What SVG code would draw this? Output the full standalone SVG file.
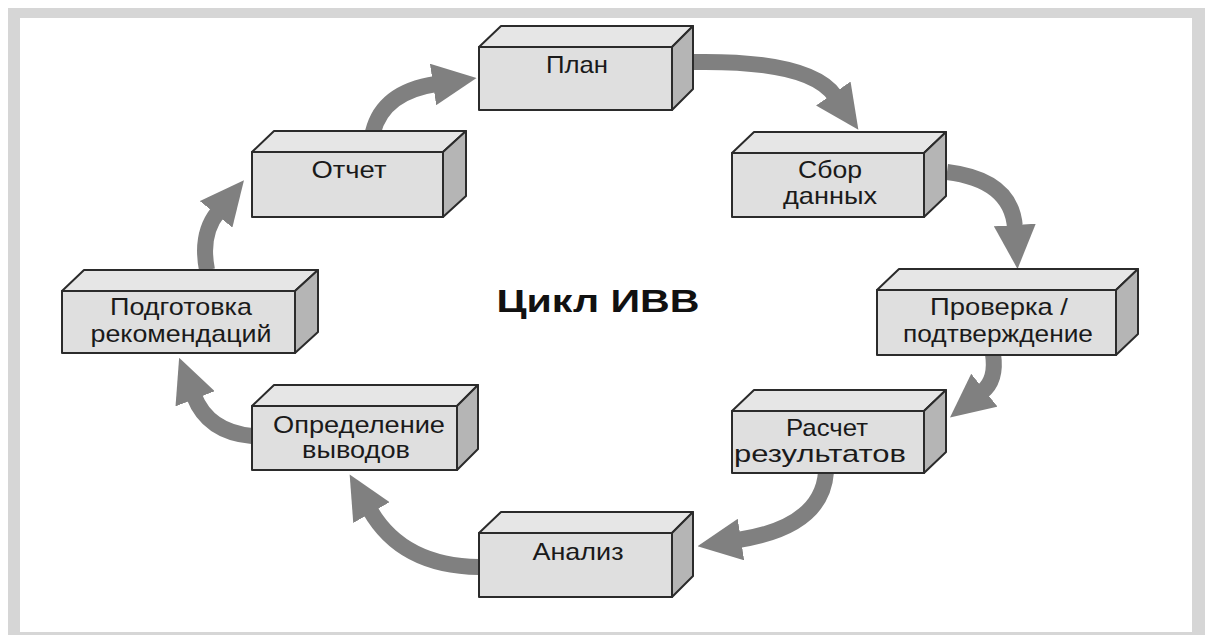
<svg xmlns="http://www.w3.org/2000/svg" width="1208" height="635" viewBox="0 0 1208 635">
<style>
.front{fill:#dfdfdf;stroke:#2b2b2b;stroke-width:2;stroke-linejoin:round}
.top{fill:#e6e6e6;stroke:#2b2b2b;stroke-width:2;stroke-linejoin:round}
.side{fill:#b5b5b5;stroke:#2b2b2b;stroke-width:2;stroke-linejoin:round}
.lbl{font-family:"Liberation Sans",Arial,sans-serif;font-size:24px;fill:#1a1a1a;text-anchor:middle}
.title{font-family:"Liberation Sans",Arial,sans-serif;font-size:32px;font-weight:bold;fill:#111;text-anchor:middle}
.arr{fill:none;stroke:#808080;stroke-width:16}
</style>
<defs>
<marker id="head" markerUnits="userSpaceOnUse" viewBox="0 -21 44 42" markerWidth="44" markerHeight="42" refX="3" refY="0" orient="auto">
<path d="M0,-21 L44,0 L0,21 z" fill="#808080"/>
</marker>
</defs>
<rect x="0" y="0" width="1208" height="635" fill="#ffffff"/>
<rect x="8" y="8" width="1197" height="640" fill="#d6d6d6"/>
<rect x="20" y="18" width="1172" height="614" fill="#ffffff"/>

<g id="connectors">
<path class="arr" marker-end="url(#head)" d="M373,132 Q383,92 436,84"/>
<path class="arr" marker-end="url(#head)" d="M693,62 Q810,60 835,96"/>
<path class="arr" marker-end="url(#head)" d="M947,172 Q1012,180 1015,228"/>
<path class="arr" marker-end="url(#head)" d="M993,354 Q997,380 982,392"/>
<path class="arr" marker-end="url(#head)" d="M826,472 Q822,527 738,540"/>
<path class="arr" marker-end="url(#head)" d="M479,567 Q402,566 370,510"/>
<path class="arr" marker-end="url(#head)" d="M252,436 Q208,432 194,396"/>
<path class="arr" marker-end="url(#head)" d="M207,270 Q200,234 218,212"/>
</g>

<g id="plan">
<polygon class="top" points="479,47 501,26 693,26 672,47"/>
<polygon class="side" points="672,47 693,26 693,89 672,110"/>
<rect class="front" x="479" y="47" width="193" height="63"/>
<text class="lbl" x="577" y="73" textLength="62" lengthAdjust="spacingAndGlyphs">План</text>
</g>

<g id="sbor">
<polygon class="top" points="732,153 754,132 946,132 924,153"/>
<polygon class="side" points="924,153 946,132 946,196 924,217"/>
<rect class="front" x="732" y="153" width="192" height="64"/>
<text class="lbl" x="830" y="178" textLength="64" lengthAdjust="spacingAndGlyphs">Сбор</text>
<text class="lbl" x="830" y="204" textLength="94" lengthAdjust="spacingAndGlyphs">данных</text>
</g>

<g id="proverka">
<polygon class="top" points="877,290 899,269 1138,269 1116,290"/>
<polygon class="side" points="1116,290 1138,269 1138,334 1116,355"/>
<rect class="front" x="877" y="290" width="239" height="65"/>
<text class="lbl" x="999" y="315" textLength="138" lengthAdjust="spacingAndGlyphs">Проверка /</text>
<text class="lbl" x="998" y="342" textLength="190" lengthAdjust="spacingAndGlyphs">подтверждение</text>
</g>

<g id="raschet">
<polygon class="top" points="732,411 754,390 946,390 924,411"/>
<polygon class="side" points="924,411 946,390 946,452 924,473"/>
<rect class="front" x="732" y="411" width="192" height="62"/>
<text class="lbl" x="827" y="436" textLength="82" lengthAdjust="spacingAndGlyphs">Расчет</text>
<text class="lbl" x="820" y="462" textLength="172" lengthAdjust="spacingAndGlyphs">результатов</text>
</g>

<g id="analiz">
<polygon class="top" points="479,533 501,512 693,512 672,533"/>
<polygon class="side" points="672,533 693,512 693,576 672,597"/>
<rect class="front" x="479" y="533" width="193" height="64"/>
<text class="lbl" x="578" y="560" textLength="91" lengthAdjust="spacingAndGlyphs">Анализ</text>
</g>

<g id="opredelenie">
<polygon class="top" points="252,406 274,385 478,385 457,406"/>
<polygon class="side" points="457,406 478,385 478,449 457,470"/>
<rect class="front" x="252" y="406" width="205" height="64"/>
<text class="lbl" x="359" y="433" textLength="172" lengthAdjust="spacingAndGlyphs">Определение</text>
<text class="lbl" x="356" y="458" textLength="108" lengthAdjust="spacingAndGlyphs">выводов</text>
</g>

<g id="podgotovka">
<polygon class="top" points="62,291 84,270 318,270 295,291"/>
<polygon class="side" points="295,291 318,270 318,332 295,353"/>
<rect class="front" x="62" y="291" width="233" height="62"/>
<text class="lbl" x="181" y="315" textLength="142" lengthAdjust="spacingAndGlyphs">Подготовка</text>
<text class="lbl" x="181" y="342" textLength="181" lengthAdjust="spacingAndGlyphs">рекомендаций</text>
</g>

<g id="otchet">
<polygon class="top" points="252,152 274,131 466,131 443,152"/>
<polygon class="side" points="443,152 466,131 466,196 443,217"/>
<rect class="front" x="252" y="152" width="191" height="65"/>
<text class="lbl" x="349" y="178" textLength="75" lengthAdjust="spacingAndGlyphs">Отчет</text>
</g>

<g id="title">
<text class="title" x="598" y="312" textLength="203" lengthAdjust="spacingAndGlyphs">Цикл ИВВ</text>
</g>
</svg>
